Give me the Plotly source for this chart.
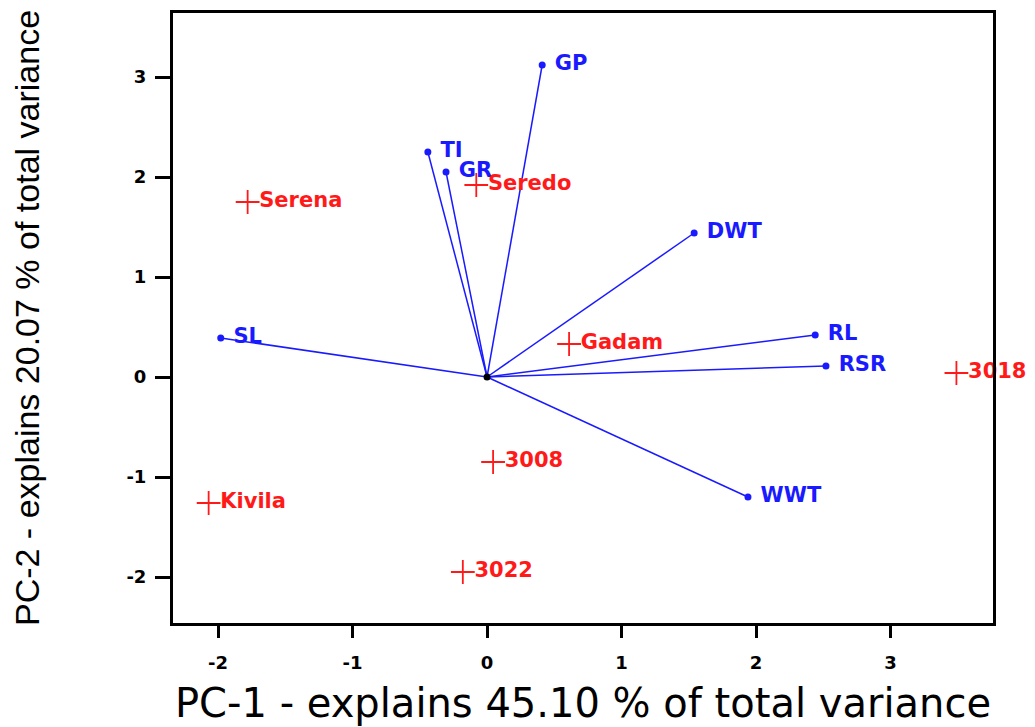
import plotly.graph_objects as go

# Variable loadings (blue vectors)
var_names = ["GP", "TI", "GR", "DWT", "RL", "RSR", "WWT", "SL"]
var_pc1 = [0.41, -0.44, -0.305, 1.54, 2.44, 2.52, 1.94, -1.98]
var_pc2 = [3.12, 2.25, 2.05, 1.44, 0.42, 0.11, -1.20, 0.39]

# Genotype scores (red crosses)
geno_names = ["Serena", "Seredo", "Gadam", "3018", "3008", "Kivila", "3022"]
geno_pc1 = [-1.78, -0.08, 0.61, 3.49, 0.045, -2.07, -0.18]
geno_pc2 = [1.75, 1.92, 0.33, 0.04, -0.85, -1.26, -1.95]

x_ticks = [-2, -1, 0, 1, 2, 3]
y_ticks = [-2, -1, 0, 1, 2, 3]
x_title = "PC-1 - explains 45.10 % of total variance"
y_title = "PC-2 - explains 20.07 % of total variance"

BLUE = "#1a1aff"
RED = "#ff1a1a"
LABEL_FONT = "DejaVu Sans"

fig = go.Figure()

# vector lines from origin
lx, ly = [], []
for a, b in zip(var_pc1, var_pc2):
    lx += [0, a, None]
    ly += [0, b, None]
fig.add_trace(go.Scatter(x=lx, y=ly, mode="lines",
                         line=dict(color=BLUE, width=1.5),
                         hoverinfo="skip", showlegend=False))

# vector end points + labels
fig.add_trace(go.Scatter(x=var_pc1, y=var_pc2, mode="markers+text",
                         text=var_names, texttemplate=" %{text}",
                         textposition="middle right",
                         textfont=dict(family=LABEL_FONT, size=21, color=BLUE, weight="bold"),
                         marker=dict(color=BLUE, size=7),
                         cliponaxis=False, showlegend=False))

# origin
fig.add_trace(go.Scatter(x=[0], y=[0], mode="markers",
                         marker=dict(color="black", size=7), showlegend=False))

# genotypes
fig.add_trace(go.Scatter(x=geno_pc1, y=geno_pc2, mode="markers+text",
                         text=geno_names, texttemplate="%{text}",
                         textposition="middle right",
                         textfont=dict(family=LABEL_FONT, size=21, color=RED, weight="bold"),
                         marker=dict(symbol="cross-thin", size=17,
                                     line=dict(color=RED, width=1.8), color=RED),
                         cliponaxis=False, showlegend=False))

fig.update_layout(
    width=1027, height=719,
    margin=dict(l=165, r=42, t=5, b=104),
    paper_bgcolor="white", plot_bgcolor="white",
    font=dict(family="Liberation Sans, Arial", color="black"),
)
fig.update_xaxes(range=[-2.335, 3.762], tickvals=x_ticks, ticktext=[str(v) for v in x_ticks],
                 showgrid=False, zeroline=False, showline=True, linecolor="black", linewidth=3,
                 mirror=True, ticks="outside", ticklen=12, tickwidth=3, tickcolor="black",
                 ticklabelstandoff=9, automargin=False,
                 tickfont=dict(size=18, color="black", family="DejaVu Sans", weight="bold"),
                 title=dict(text=x_title, font=dict(size=40, family="DejaVu Sans"), standoff=18))
fig.update_yaxes(range=[-2.46, 3.64], tickvals=y_ticks, ticktext=[str(v) for v in y_ticks],
                 showgrid=False, zeroline=False, showline=True, linecolor="black", linewidth=3,
                 mirror=True, ticks="outside", ticklen=15, tickwidth=3, tickcolor="black",
                 ticklabelstandoff=5, automargin=False,
                 tickfont=dict(size=18, color="black", family="DejaVu Sans", weight="bold"),
                 title=dict(text=y_title, font=dict(size=34, family="Liberation Sans"), standoff=85))

fig.write_html("out.html")
